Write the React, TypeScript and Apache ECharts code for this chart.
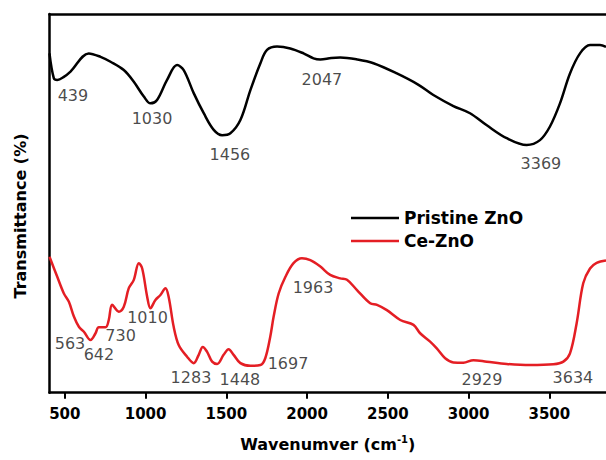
import React, { useEffect, useRef } from "react";
import * as echarts from "echarts";

// Pristine ZnO spectrum (wavenumber, transmittance a.u.)
const pristineWn = [405, 432, 453, 494, 535, 648, 721, 783, 865, 927, 989, 1030, 1071, 1133, 1195, 1236, 1298, 1360, 1422, 1474, 1525, 1587, 1649, 1711, 1752, 1814, 1896, 1978, 2040, 2082, 2150, 2205, 2309, 2411, 2556, 2690, 2782, 2906, 3009, 3113, 3236, 3360, 3442, 3504, 3566, 3628, 3690, 3752, 3814, 3851];
const pristineT = [89.6, 83.0, 82.6, 83.4, 84.8, 89.6, 88.7, 87.4, 85.2, 82.1, 78.2, 76.4, 77.3, 82.6, 86.5, 85.2, 79.1, 73.8, 69.4, 68.0, 68.5, 72.0, 79.9, 87.0, 90.5, 91.4, 90.9, 89.6, 88.3, 88.0, 88.4, 88.5, 88.0, 87.0, 84.3, 81.3, 78.6, 75.7, 73.8, 70.6, 67.2, 65.4, 66.7, 70.3, 76.4, 84.3, 89.6, 91.8, 91.8, 91.3];

// Ce-ZnO spectrum
const ceWn = [405, 453, 494, 525, 556, 587, 618, 659, 690, 710, 752, 772, 793, 834, 865, 896, 927, 958, 979, 1010, 1030, 1061, 1092, 1123, 1143, 1174, 1205, 1257, 1298, 1329, 1354, 1381, 1412, 1443, 1483, 1514, 1545, 1587, 1649, 1711, 1741, 1772, 1793, 1824, 1866, 1916, 1968, 2020, 2082, 2143, 2205, 2247, 2309, 2391, 2433, 2494, 2577, 2659, 2700, 2762, 2803, 2855, 2906, 2968, 3030, 3113, 3236, 3381, 3525, 3587, 3628, 3669, 3710, 3752, 3793, 3851];
const ceT = [35.9, 30.6, 26.2, 24.0, 20.1, 17.4, 16.1, 13.9, 15.7, 17.3, 17.3, 19.2, 23.2, 21.4, 22.7, 27.6, 29.8, 34.2, 32.8, 25.3, 22.3, 24.5, 25.8, 27.6, 25.3, 17.4, 12.6, 9.5, 7.8, 10.0, 12.1, 10.8, 8.2, 7.6, 10.0, 11.5, 10.0, 7.8, 7.1, 7.3, 9.1, 14.8, 20.1, 26.2, 30.6, 34.2, 35.5, 35.0, 33.3, 31.1, 30.2, 29.8, 27.1, 23.6, 23.2, 21.8, 19.2, 17.9, 15.7, 13.5, 11.7, 9.1, 8.0, 7.9, 8.6, 8.2, 7.6, 7.3, 7.5, 8.2, 10.4, 18.3, 28.9, 32.8, 34.3, 34.9];

// Peak annotations: text and anchor in data coordinates
const peakLabels = ["439", "1030", "1456", "2047", "3369", "563", "642", "730", "1010", "1283", "1448", "1697", "1963", "2929", "3634"];
const peakLabelX = [550, 1040, 1522, 2092, 3448, 532, 711, 845, 1012, 1281, 1584, 1882, 2037, 3083, 3646];
const peakLabelY = [78.6, 72.5, 63.0, 82.8, 60.6, 12.9, 10.2, 15.0, 19.8, 4.1, 3.6, 7.6, 27.9, 3.4, 3.9];

const seriesNames = ["Pristine ZnO", "Ce-ZnO"];
const xMin = 405;
const xMax = 3851;

const FONT = "DejaVu Sans";

export default function App() {
  const ref = useRef<HTMLDivElement>(null);
  useEffect(() => {
    if (!ref.current) return;
    const chart = echarts.init(ref.current, null, { renderer: "svg" });
    const pristine = pristineWn.map((w, i) => [w, pristineT[i]]);
    const ce = ceWn.map((w, i) => [w, ceT[i]]);
    const labels = peakLabels.map((t, i) => [peakLabelX[i], peakLabelY[i], t]);
    chart.setOption({
      animation: false,
      backgroundColor: "#ffffff",
      grid: { left: 49.5, right: 0, top: 14, bottom: 67.3 },
      legend: {
        data: seriesNames,
        orient: "vertical",
        left: 346,
        top: 203,
        icon: "rect",
        itemWidth: 48,
        itemHeight: 2.5,
        itemGap: 3,
        textStyle: { fontFamily: FONT, fontWeight: "bold", fontSize: 17, color: "#000", lineHeight: 20 },
      },
      xAxis: [
        {
          type: "value",
          min: xMin,
          max: xMax,
          minInterval: 500,
          maxInterval: 500,
          position: "bottom",
          axisLine: { show: true, lineStyle: { color: "#000", width: 2.5 } },
          axisTick: { show: true, inside: false, length: 6, lineStyle: { color: "#000", width: 2 } },
          axisLabel: {
            showMinLabel: false,
            showMaxLabel: false,
            margin: 14,
            formatter: (v: number) => String(v),
            fontFamily: FONT,
            fontWeight: "bold",
            fontSize: 15,
            color: "#000",
          },
          splitLine: { show: false },
          name: "Wavenumver (cm{sup|-1})",
          nameLocation: "middle",
          nameGap: 42,
          nameTextStyle: {
            fontFamily: FONT,
            fontWeight: "bold",
            fontSize: 16,
            color: "#000",
            rich: {
              sup: { fontFamily: FONT, fontWeight: "bold", fontSize: 10, color: "#000", padding: [0, 0, 9, 0] },
            },
          },
        },
        {
          type: "value",
          min: xMin,
          max: xMax,
          position: "top",
          axisLine: { show: true, lineStyle: { color: "#000", width: 2.5 } },
          axisTick: { show: false },
          axisLabel: { show: false },
          splitLine: { show: false },
        },
      ],
      yAxis: {
        type: "value",
        min: 0,
        max: 100,
        axisLine: { show: true, lineStyle: { color: "#000", width: 2.5 } },
        axisTick: { show: false },
        axisLabel: { show: false },
        splitLine: { show: false },
      },
      graphic: [
        {
          type: "text",
          x: 20,
          y: 216,
          rotation: Math.PI / 2,
          style: {
            text: "Transmittance (%)",
            fontFamily: FONT,
            fontWeight: "bold",
            fontSize: 16,
            fill: "#000",
            textAlign: "center",
            textVerticalAlign: "middle",
          },
        },
      ],
      series: [
        {
          name: seriesNames[0],
          type: "line",
          data: pristine,
          smooth: 0.35,
          showSymbol: false,
          color: "#000000",
          lineStyle: { color: "#000000", width: 2.5 },
          z: 3,
        },
        {
          name: seriesNames[1],
          type: "line",
          data: ce,
          smooth: 0.35,
          showSymbol: false,
          color: "#e41e24",
          lineStyle: { color: "#e41e24", width: 2.5 },
          z: 3,
        },
        {
          name: "peaks",
          type: "scatter",
          data: labels,
          symbolSize: 0,
          silent: true,
          z: 4,
          label: {
            show: true,
            position: "inside",
            formatter: (p: any) => p.data[2],
            fontFamily: FONT,
            fontSize: 16,
            color: "#1a1a1a",
          },
        },
      ],
    });
    return () => chart.dispose();
  }, []);
  return <div ref={ref} style={{ position: "absolute", left: 0, top: 0, width: 606, height: 460 }} />;
}
